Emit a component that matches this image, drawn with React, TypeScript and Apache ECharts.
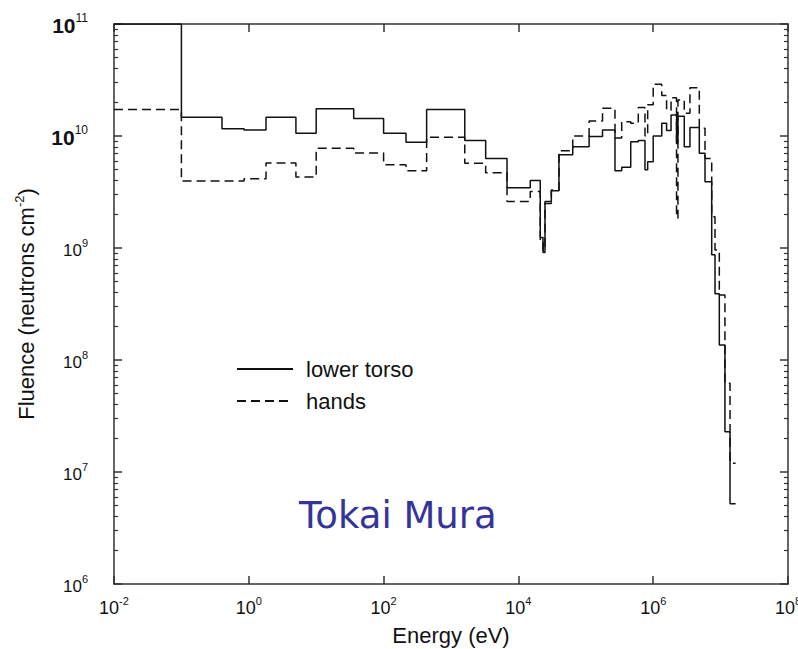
import React, { useEffect, useRef } from 'react';
import * as echarts from 'echarts';

// Bin edges (eV) shared by both spectra
const binEdges = [
  0.01, 0.1, 0.4, 0.85, 1.8, 5, 10, 36, 100, 215, 435, 1600, 3270, 6780, 15000,
  21100, 23200, 24800, 30800, 40000, 64000, 112000, 177000, 271000, 341000,
  464000, 601000, 755000, 828000, 1.0e6, 1.34e6, 1.58e6, 1.84e6, 2.22e6, 2.33e6,
  2.89e6, 3.51e6, 4.83e6, 5.87e6, 7.38e6, 8.26e6, 9.57e6, 1.16e7, 1.38e7, 1.67e7,
];

// Fluence per bin (neutrons cm^-2)
const lowerTorso = [
  1e11, 1.47e10, 1.16e10, 1.13e10, 1.47e10, 1.06e10, 1.75e10, 1.43e10, 1.06e10,
  8.8e9, 1.72e10, 9.1e9, 6.3e9, 3.45e9, 4.0e9, 1.24e9, 9.1e8, 2.6e9, 3.25e9,
  6.8e9, 8.0e9, 9.9e9, 1.13e10, 4.9e9, 5.25e9, 8.9e9, 9.1e9, 5.0e9, 5.9e9,
  1.0e10, 1.3e10, 1.12e10, 1.54e10, 8.8e9, 1.5e10, 8.0e9, 1.19e10, 7.0e9, 3.9e9,
  8.7e8, 3.9e8, 1.36e8, 2.29e7, 5.2e6,
];

const hands = [
  1.72e10, 3.96e9, 3.96e9, 4.16e9, 5.74e9, 4.3e9, 7.76e9, 7.05e9, 5.55e9, 4.9e9,
  9.73e9, 5.7e9, 4.7e9, 2.6e9, 3.2e9, 1.15e9, 9.5e8, 2.5e9, 3.3e9, 7.4e9, 1.0e10,
  1.36e10, 1.77e10, 9.6e9, 1.34e10, 1.3e10, 1.8e10, 1.0e10, 1.9e10, 2.9e10,
  2.3e10, 1.7e10, 2.2e10, 1.84e9, 2.1e10, 1.6e10, 2.7e10, 1.17e10, 6.3e9, 1.9e9,
  9.6e8, 3.8e8, 6.2e7, 1.2e7,
];

const seriesNames = ['lower torso', 'hands'];
const annotation = 'Tokai Mura';
const xName = 'Energy (eV)';
const yNameMain = 'Fluence (neutrons cm';
const yNameSup = '-2';
const boldDecades = [10, 11];
const minorMultipliers = [2, 3, 4, 5, 6, 7, 8, 9];
const yDecades = [6, 7, 8, 9, 10];

const FONT = '"Liberation Sans", Arial, Helvetica, sans-serif';
const AXIS_COLOR = '#333';

function steps(edges: number[], vals: number[]) {
  const pts: number[][] = [];
  for (let i = 0; i < vals.length; i++) {
    pts.push([edges[i], vals[i]]);
    pts.push([edges[i + 1], vals[i]]);
  }
  return pts;
}

const minorTickValues: number[] = [];
yDecades.forEach((d) => minorMultipliers.forEach((k) => minorTickValues.push(d + Math.log10(k))));

function powLabel(v: number, boldOk: boolean) {
  const e = Math.round(Math.log10(v));
  if (boldOk && boldDecades.indexOf(e) >= 0) return `{bb|10}{eb|${e}}`;
  return `{b|10}{e|${e}}`;
}

export default function App() {
  const ref = useRef<HTMLDivElement>(null);
  useEffect(() => {
    if (!ref.current) return;
    const chart = echarts.init(ref.current, undefined, { renderer: 'svg' });

    const labelRichX = {
      b: { fontSize: 18, fontFamily: FONT, color: '#111', lineHeight: 22, verticalAlign: 'bottom' },
      e: { fontSize: 11, fontFamily: FONT, color: '#111', lineHeight: 11, verticalAlign: 'top' },
    };
    const labelRichY = {
      b: { fontSize: 17, fontFamily: FONT, color: '#111', lineHeight: 21, verticalAlign: 'bottom' },
      e: { fontSize: 11, fontFamily: FONT, color: '#111', lineHeight: 11, verticalAlign: 'top' },
      bb: { fontSize: 21, fontWeight: 'bold', fontFamily: FONT, color: '#111', lineHeight: 24, verticalAlign: 'bottom' },
      eb: { fontSize: 12, fontFamily: FONT, color: '#111', lineHeight: 12, verticalAlign: 'top' },
    };

    const lineAxis = { lineStyle: { color: AXIS_COLOR, width: 1.5 } };
    const majorTick = { inside: true, length: 8, lineStyle: { color: AXIS_COLOR, width: 1.5 } };

    chart.setOption({
      animation: false,
      grid: { left: 114, right: 10, top: 24, bottom: 65, containLabel: false, outerBoundsMode: 'none' },
      legend: {
        data: seriesNames,
        orient: 'vertical',
        left: 236,
        top: 358,
        itemWidth: 56,
        itemHeight: 14,
        itemGap: 10,
        padding: 0,
        itemStyle: { opacity: 0 },
        textStyle: { fontSize: 22, fontFamily: FONT, color: '#111', padding: [0, 0, 0, 8], lineHeight: 20 },
        selectedMode: false,
      },
      xAxis: [
        {
          type: 'log',
          logBase: 10,
          min: 0.01,
          max: 1e8,
          interval: 2,
          position: 'bottom',
          axisLine: lineAxis,
          axisTick: majorTick,
          splitLine: { show: false },
          axisLabel: {
            margin: 11,
            formatter: (v: number) => powLabel(v, false),
            rich: labelRichX,
          },
          name: xName,
          nameLocation: 'middle',
          nameGap: 40,
          nameTextStyle: { fontSize: 22, fontFamily: FONT, color: '#111' },
        },
        {
          type: 'log',
          logBase: 10,
          min: 0.01,
          max: 1e8,
          interval: 2,
          position: 'top',
          axisLine: lineAxis,
          axisTick: majorTick,
          splitLine: { show: false },
          axisLabel: { show: false },
        },
      ],
      yAxis: [
        {
          type: 'log',
          logBase: 10,
          min: 1e6,
          max: 1e11,
          interval: 1,
          position: 'left',
          axisLine: lineAxis,
          axisTick: majorTick,
          splitLine: { show: false },
          axisLabel: {
            margin: 26,
            formatter: (v: number) => powLabel(v, true),
            rich: labelRichY,
          },
          name: `{n|${yNameMain}}{s|${yNameSup}}{n|)}`,
          nameLocation: 'middle',
          nameRotate: 90,
          nameGap: 77,
          nameTextStyle: {
            rich: {
              n: { fontSize: 22, fontFamily: FONT, color: '#111', lineHeight: 24, verticalAlign: 'bottom' },
              s: { fontSize: 13, fontFamily: FONT, color: '#111', lineHeight: 13, verticalAlign: 'top' },
            },
          },
        },
        {
          type: 'log',
          logBase: 10,
          min: 1e6,
          max: 1e11,
          interval: 1,
          position: 'right',
          axisLine: lineAxis,
          axisTick: majorTick,
          splitLine: { show: false },
          axisLabel: { show: false },
        },
        {
          type: 'value',
          min: 6,
          max: 11,
          position: 'left',
          axisLine: { show: false },
          axisTick: { inside: true, length: 4, customValues: minorTickValues, lineStyle: { color: AXIS_COLOR, width: 1.2 } },
          axisLabel: { show: false },
          splitLine: { show: false },
        },
        {
          type: 'value',
          min: 6,
          max: 11,
          position: 'right',
          axisLine: { show: false },
          axisTick: { inside: true, length: 4, customValues: minorTickValues, lineStyle: { color: AXIS_COLOR, width: 1.2 } },
          axisLabel: { show: false },
          splitLine: { show: false },
        },
      ],
      series: [
        {
          name: seriesNames[0],
          type: 'line',
          xAxisIndex: 0,
          yAxisIndex: 0,
          data: steps(binEdges, lowerTorso),
          symbol: 'none',
          clip: true,
          itemStyle: { color: '#111' },
          lineStyle: { color: '#111', width: 1.5 },
          emphasis: { disabled: true },
          z: 3,
        },
        {
          name: seriesNames[1],
          type: 'line',
          xAxisIndex: 0,
          yAxisIndex: 0,
          data: steps(binEdges, hands),
          symbol: 'none',
          clip: true,
          itemStyle: { color: '#111' },
          lineStyle: { color: '#111', width: 1.5, type: [9, 5] },
          emphasis: { disabled: true },
          z: 2,
        },
      ],
      graphic: [
        {
          type: 'text',
          left: 299,
          top: 497,
          style: {
            text: annotation,
            fontSize: 37,
            fontFamily: '"DejaVu Sans", Verdana, sans-serif',
            fill: '#34349a',
          },
        },
      ],
    });
    return () => chart.dispose();
  }, []);

  return (
    <div
      ref={ref}
      style={{ position: 'absolute', left: 0, top: 0, width: 798, height: 649, background: '#fff' }}
    />
  );
}
